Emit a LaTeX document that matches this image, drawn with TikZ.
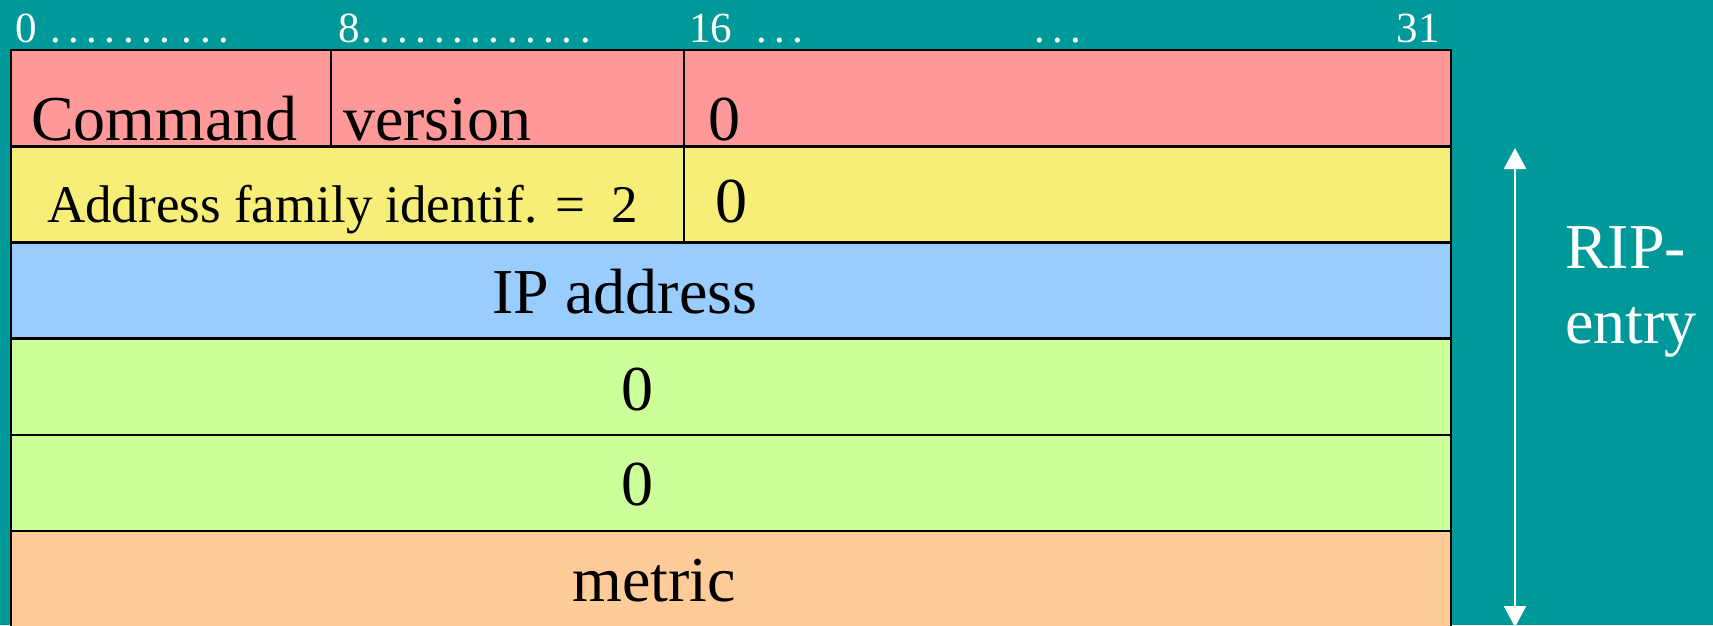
\documentclass[tikz,border=0pt]{standalone}
\usepackage{fontspec}
\setmainfont{Liberation Serif}
\usetikzlibrary{arrows.meta}
\definecolor{bg}{HTML}{009999}
\definecolor{rowpink}{HTML}{FF9999}
\definecolor{rowyellow}{HTML}{F6EE77}
\definecolor{rowblue}{HTML}{99CCFF}
\definecolor{rowgreen}{HTML}{CCFF99}
\definecolor{roworange}{HTML}{FFCC99}
% one header dot with its spacing
\newcommand\pd{.\kern7.5pt}
\begin{document}
\begin{tikzpicture}[x=1pt,y=-1pt,
  cell/.style={draw=black, line width=2.6pt, inner sep=0pt, outer sep=0pt,
               anchor=north west, minimum height=96.2pt},
  big/.style={font=\fontsize{64}{70}\selectfont, inner sep=0pt, text=black},
  mid/.style={font=\fontsize{53}{60}\selectfont, inner sep=0pt, text=black},
  hdr/.style={font=\fontsize{43}{48}\selectfont, inner sep=0pt, text=white, anchor=base west},
  side/.style={font=\fontsize{64}{70}\selectfont, inner sep=0pt, text=white, anchor=base west},
  span/.style={white, line width=2.6pt,
               arrows={Triangle[length=21pt,width=22pt]-Triangle[length=21pt,width=22pt]}}]
\fill[bg] (0,0) rectangle (1713,625);
\useasboundingbox (0,0) rectangle (1713,625);
\clip (0,0) rectangle (1713,625);

% header bit positions
\node[hdr] (b0) at (15,42) {0};
\node[hdr] (d0) at (50,42) {\pd\pd\pd\pd\pd\pd\pd\kern4pt\pd\pd.};
\node[hdr] (b8) at (338,42) {8};
\node[hdr] (d8) at (361,42) {\pd\pd\pd\pd\pd\pd\pd\pd\pd\pd\pd\pd.};
\node[hdr] (b16) at (689,42) {16};
\node[hdr] (d16) at (756,42) {\pd\pd.};
\node[hdr] (dmid) at (1034,42) {\pd\pd.};
\node[hdr, anchor=base east] (b31) at (1440,42) {31};

% packet rows
\node[cell, fill=rowpink, minimum width=320pt] (cmd) at (11,50) {};
\node[cell, fill=rowpink, minimum width=353pt] (ver) at (331,50) {};
\node[cell, fill=rowpink, minimum width=767pt] (zeroA) at (684,50) {};
\node[cell, fill=rowyellow, minimum width=673pt] (afi) at (11,146.2) {};
\node[cell, fill=rowyellow, minimum width=767pt] (zeroB) at (684,146.2) {};
\node[cell, fill=rowblue, minimum width=1440pt] (ip) at (11,242.4) {};
\node[cell, fill=rowgreen, minimum width=1440pt] (zeroC) at (11,338.6) {};
\node[cell, fill=rowgreen, minimum width=1440pt] (zeroD) at (11,434.8) {};
\node[cell, fill=roworange, minimum width=1440pt] (metric) at (11,531) {};

% field labels
\node[big, anchor=base west] (tcmd) at (31,140) {Command};
\node[big, anchor=base west] (tver) at (343,140) {version};
\node[big, anchor=base west] (tzA) at (708,140) {0};
\node[mid, anchor=base west] (tafi) at (47,222) {Address family identif. =\ \ 2};
\node[big, anchor=base west] (tzB) at (715,222) {0};
\node[big, anchor=base] (tipaddr) at (625,313) {IP address};
\node[big, anchor=base] (tzC) at (637,410) {0};
\node[big, anchor=base] (tzD) at (637,505) {0};
\node[big, anchor=base] (tmet) at (654,601) {metric};

% extent of one RIP entry
\coordinate (etop) at (1515,148);
\coordinate (ebot) at (1515,627);
\draw[span] (etop) -- (ebot);
\node[side] (rip) at (1565,268) {RIP-};
\node[side] (entry) at (1565,343) {entry};
\end{tikzpicture}
\end{document}
